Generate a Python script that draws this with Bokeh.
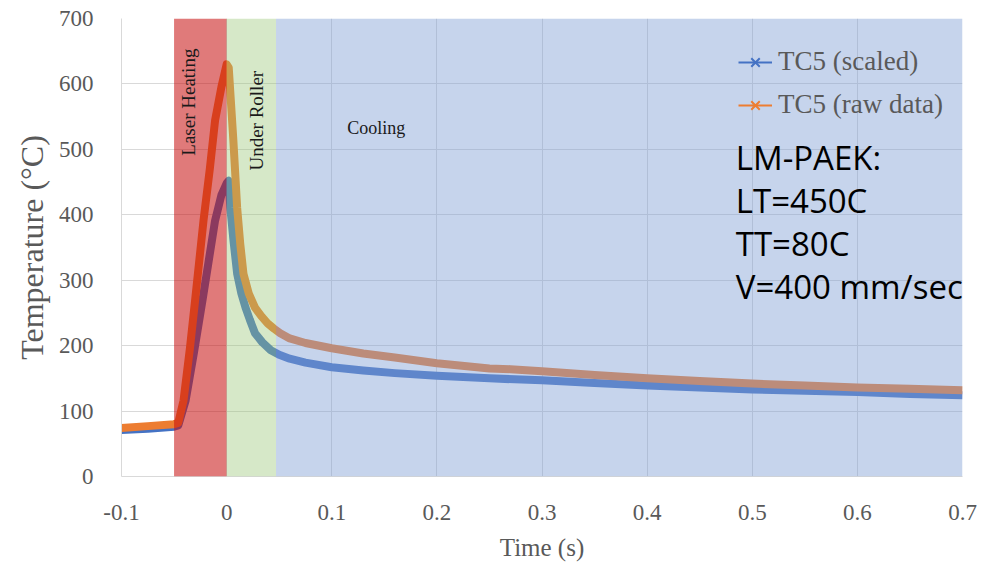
from bokeh.plotting import figure
from bokeh.models import (BoxAnnotation, Label, Legend, LegendItem, FixedTicker, Range1d)
from bokeh.embed import file_html
from bokeh.resources import INLINE

# ---- data ----
t_scaled = [-0.100, -0.075, -0.050, -0.046, -0.039, -0.031, -0.023, -0.017, -0.011, -0.005,
            0.000, 0.002, 0.0035, 0.0065, 0.010, 0.014, 0.018, 0.022, 0.027, 0.034, 0.042,
            0.050, 0.060, 0.075, 0.100, 0.130, 0.160, 0.200, 0.250, 0.300, 0.350, 0.400,
            0.450, 0.500, 0.550, 0.600, 0.650, 0.700]
temp_scaled = [71, 73, 76, 78, 116, 190, 269, 330, 391, 430,
               448, 452, 411, 361, 310, 280, 258, 240, 219, 205, 193,
               186, 180, 174, 167, 162, 158, 154, 150, 147, 143, 139,
               136, 133, 131, 129, 126, 124]

t_raw = [-0.100, -0.075, -0.050, -0.046, -0.041, -0.035, -0.030, -0.022, -0.016, -0.011,
         -0.005, 0.000, 0.002, 0.0064, 0.010, 0.013, 0.016, 0.021, 0.027, 0.033, 0.039,
         0.045, 0.051, 0.060, 0.075, 0.100, 0.130, 0.160, 0.200, 0.250, 0.270, 0.300,
         0.350, 0.400, 0.450, 0.500, 0.550, 0.600, 0.650, 0.700]
temp_raw = [74, 77, 80, 82, 116, 195, 269, 391, 470, 544,
            595, 630, 625, 514, 411, 355, 310, 280, 258, 245, 234,
            226, 219, 211, 204, 196, 188, 182, 173, 165, 164, 161,
            155, 150, 146, 142, 139, 136, 134, 132]

series_names = ["TC5 (scaled)", "TC5 (raw data)"]
series_colors = ["#4472C4", "#ED7D31"]

x_ticks = [-0.1, 0.0, 0.1, 0.2, 0.3, 0.4, 0.5, 0.6, 0.7]
x_tick_labels = ["-0.1", "0", "0.1", "0.2", "0.3", "0.4", "0.5", "0.6", "0.7"]
y_ticks = [0, 100, 200, 300, 400, 500, 600, 700]

phase_names = ["Laser Heating", "Under Roller", "Cooling"]
phase_start = [-0.05, 0.0, 0.047]
phase_end = [0.0, 0.047, 0.7]
phase_colors = ["#C60D0D", "#98C575", "#81A0D5"]
phase_alpha = [0.55, 0.4, 0.45]

note_lines = ["LM-PAEK:", "LT=450C", "TT=80C", "V=400 mm/sec"]

# ---- figure ----
p = figure(width=992, height=564, x_range=Range1d(-0.1, 0.7), y_range=Range1d(0, 700),
           output_backend="svg", toolbar_location=None,
           min_border_left=121, min_border_right=30, min_border_top=18, min_border_bottom=88)
p.outline_line_color = None
p.background_fill_color = "white"
p.border_fill_color = "white"

SERIF = "Liberation Serif"
GREY = "#595959"

p.xaxis.ticker = FixedTicker(ticks=x_ticks)
p.xaxis.major_label_overrides = {t: l for t, l in zip(x_ticks, x_tick_labels)}
p.yaxis.ticker = FixedTicker(ticks=y_ticks)
for ax in (p.xaxis[0], p.yaxis[0]):
    ax.axis_line_color = "#d9d9d9"
    ax.major_tick_line_color = None
    ax.minor_tick_line_color = None
    ax.major_label_text_font = SERIF
    ax.major_label_text_font_size = "23px"
    ax.major_label_text_color = GREY
    ax.axis_label_text_font = SERIF
    ax.axis_label_text_font_style = "normal"
    ax.axis_label_text_color = GREY
p.xaxis.axis_label = "Time (s)"
p.yaxis.axis_label = "Temperature (°C)"
p.xaxis.axis_label_text_font_size = "25px"
p.yaxis.axis_label_text_font_size = "32px"
p.xaxis.major_label_standoff = 22
p.xaxis.axis_label_standoff = 11
p.yaxis.major_label_standoff = 22
p.yaxis.axis_label_standoff = 6

p.xgrid.ticker = FixedTicker(ticks=x_ticks)
p.ygrid.ticker = FixedTicker(ticks=y_ticks)
p.grid.grid_line_color = "#d9d9d9"
p.grid.grid_line_width = 1

# ---- series ----
p.line(t_scaled, temp_scaled, line_color=series_colors[0], line_width=8, line_join="round")
p.line(t_raw, temp_raw, line_color=series_colors[1], line_width=8, line_join="round")

# legend glyphs (thin line with x marker, as in the reference legend)
nan = float("nan")
items = []
for name, col in zip(series_names, series_colors):
    lr = p.line(x=[nan, nan], y=[nan, nan], line_color=col, line_width=2)
    mr = p.scatter(x=[nan], y=[nan], marker="x", size=9, line_color=col, line_width=2)
    items.append(LegendItem(label=name, renderers=[lr, mr], index=0))
legend = Legend(items=items, location=(617, 356), orientation="vertical",
                label_text_font=SERIF, label_text_font_size="27px", label_text_color=GREY,
                glyph_width=34, glyph_height=30, label_height=30, label_standoff=6,
                spacing=12, padding=0, margin=0,
                background_fill_alpha=0, border_line_alpha=0)
p.add_layout(legend)

# ---- phase shading (drawn over the data, like the reference) ----
for s, e, c, a in zip(phase_start, phase_end, phase_colors, phase_alpha):
    p.add_layout(BoxAnnotation(left=s, right=e, fill_color=c, fill_alpha=a,
                               line_color=None, level="overlay"))

# phase labels
p.add_layout(Label(x=-0.0363, y=654, text=phase_names[0], angle=90, angle_units="deg",
                   text_align="right", text_baseline="middle", text_font=SERIF,
                   text_font_size="19px", text_color="#1a1a1a", level="overlay"))
p.add_layout(Label(x=0.0283, y=620, text=phase_names[1], angle=90, angle_units="deg",
                   text_align="right", text_baseline="middle", text_font=SERIF,
                   text_font_size="19px", text_color="#1a1a1a", level="overlay"))
p.add_layout(Label(x=0.1147, y=532, text=phase_names[2], text_align="left",
                   text_baseline="middle", text_font=SERIF,
                   text_font_size="18px", text_color="#1a1a1a", level="overlay"))

# process note
for line, yc in zip(note_lines, [487.5, 421.8, 356.1, 290.4]):
    p.add_layout(Label(x=0.4843, y=yc, text=line, text_align="left",
                       text_baseline="middle", text_font="Open Sans",
                       text_font_size="33px", text_color="#000000", level="overlay"))

# decorative slide edge at the right of the picture
p.add_layout(BoxAnnotation(left=978, right=992, top=97, bottom=564,
                           left_units="canvas", right_units="canvas",
                           top_units="canvas", bottom_units="canvas",
                           fill_color="#c3d2ee", fill_alpha=1.0,
                           line_color="#9db3dc", line_width=2, level="overlay"))

open("out.html", "w").write(file_html(p, INLINE))
